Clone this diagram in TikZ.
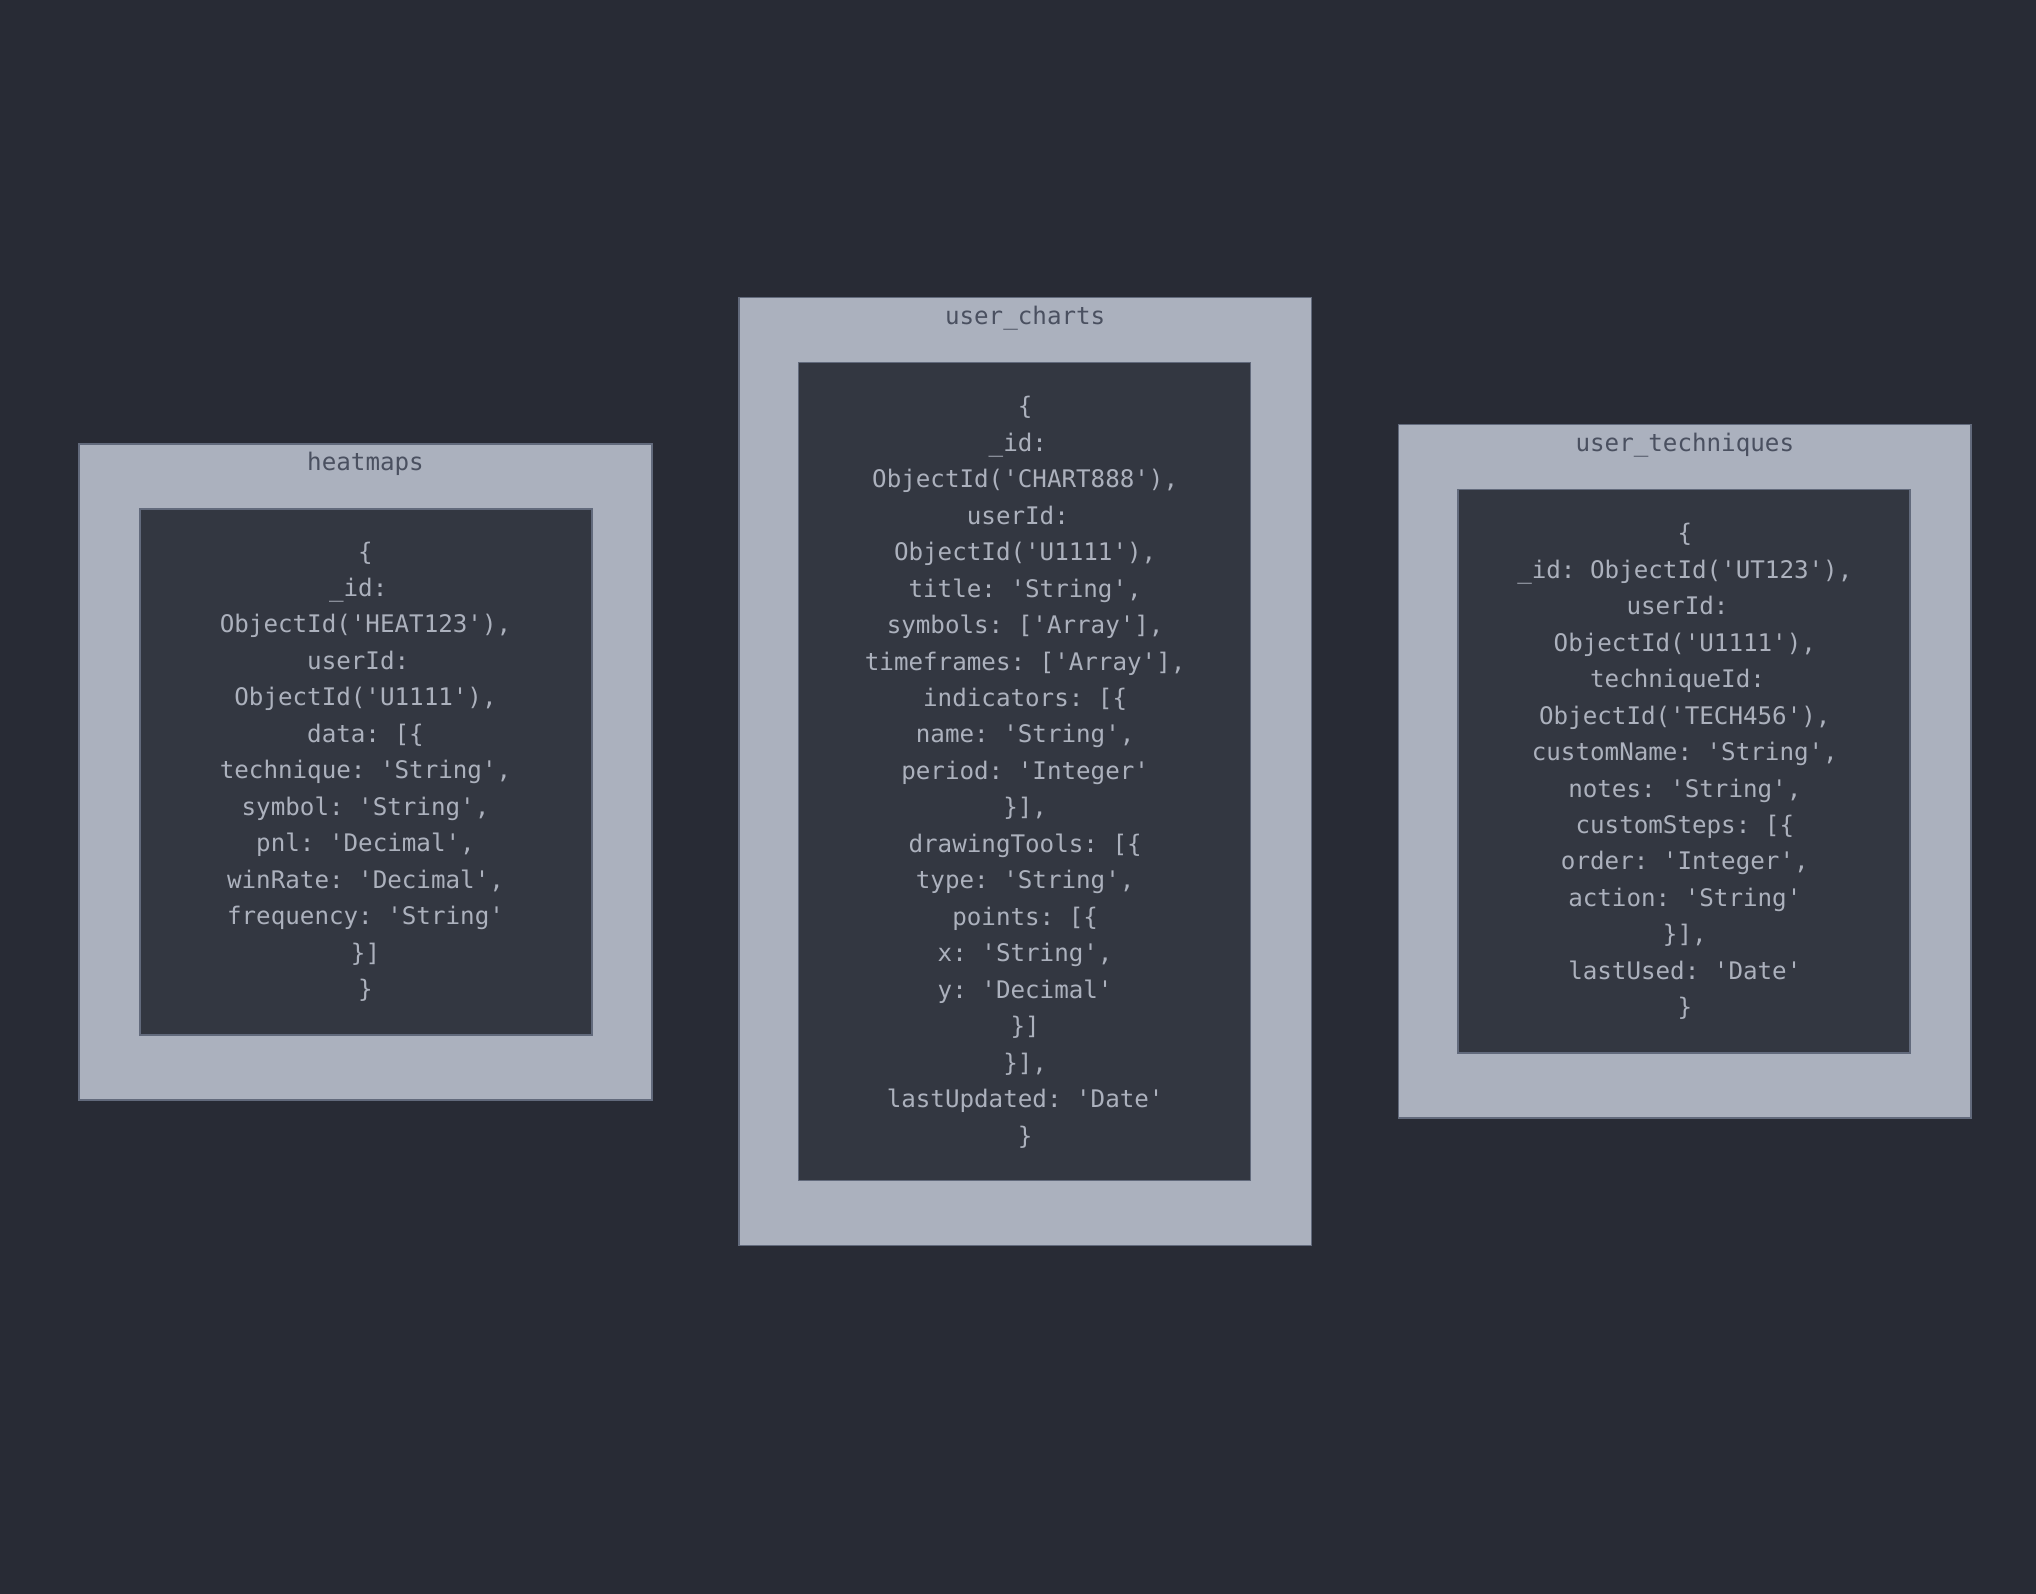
\documentclass[tikz,border=0pt]{standalone}
\usepackage{fontspec}
\setmonofont{DejaVu Sans Mono}
\definecolor{bgc}{HTML}{282B35}
\definecolor{outerc}{HTML}{ABB1BE}
\definecolor{innerc}{HTML}{333741}
\definecolor{edgec}{HTML}{626A7C}
\definecolor{titlec}{HTML}{4A5060}
\definecolor{bodyc}{HTML}{ACB1BD}
\newcommand{\tsp}{\phantom{x}}
\tikzset{
  outerbox/.style={draw=edgec, line width=1.5pt, fill=outerc, rectangle, inner sep=0pt, minimum width=572.6pt},
  innerbox/.style={draw=edgec, line width=1.5pt, fill=innerc, rectangle, inner sep=0pt, minimum width=451.9pt},
  titletext/.style={text=titlec, font=\ttfamily\fontsize{24.2}{30}\selectfont, inner sep=0pt, anchor=center},
  bodytext/.style={text=bodyc, font=\ttfamily\fontsize{24.2}{36.46}\selectfont, align=center, inner sep=0pt, anchor=center},
}
\begin{document}
\begin{tikzpicture}[x=1pt,y=-1pt]
\useasboundingbox[fill=bgc] (0,0) rectangle (2036,1594);
% heatmaps
\node[outerbox, minimum height=655.7pt] (hmo) at (365.5,771.95) {};
\node[innerbox, minimum height=525.9pt] (hmi) at (366.15,771.95) {};
\node[titletext] (hmt) at (365.5,463.5) {heatmaps};
\node[bodytext] (hmb) at (365.5,771.6) {\{\\\_id:\tsp\\ObjectId('HEAT123'),\\userId:\tsp\\ObjectId('U1111'),\\data: [\{\\technique: 'String',\\symbol: 'String',\\pnl: 'Decimal',\\winRate: 'Decimal',\\frequency: 'String'\\\}]\\\}};
% user_charts
\node[outerbox, minimum height=947.9pt] (uco) at (1025.15,771.35) {};
\node[innerbox, minimum height=818.1pt] (uci) at (1024.55,771.35) {};
\node[titletext] (uct) at (1025.15,318) {user\_charts};
\node[bodytext] (ucb) at (1025.15,772.2) {\{\\\_id:\tsp\\ObjectId('CHART888'),\\userId:\tsp\\ObjectId('U1111'),\\title: 'String',\\symbols: ['Array'],\\timeframes: ['Array'],\\indicators: [\{\\name: 'String',\\period: 'Integer'\\\}],\\drawingTools: [\{\\type: 'String',\\points: [\{\\x: 'String',\\y: 'Decimal'\\\}]\\\}],\\lastUpdated: 'Date'\\\}};
% user_techniques
\node[outerbox, minimum height=693.4pt] (uto) at (1684.8,771.3) {};
\node[innerbox, minimum height=563.6pt] (uti) at (1684.15,771.3) {};
\node[titletext] (utt) at (1684.8,445.3) {user\_techniques};
\node[bodytext] (utb) at (1684.8,771.55) {\{\\\_id: ObjectId('UT123'),\\userId:\tsp\\ObjectId('U1111'),\\techniqueId:\tsp\\ObjectId('TECH456'),\\customName: 'String',\\notes: 'String',\\customSteps: [\{\\order: 'Integer',\\action: 'String'\\\}],\\lastUsed: 'Date'\\\}};
\end{tikzpicture}
\end{document}
